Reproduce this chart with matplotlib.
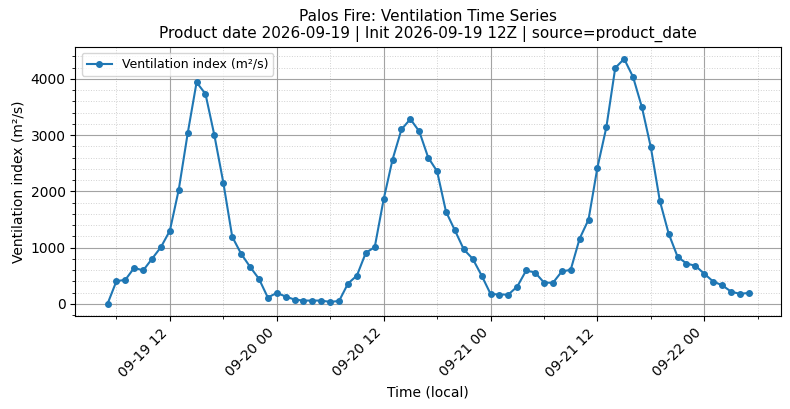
import matplotlib
matplotlib.use("Agg")
import matplotlib.pyplot as plt
import matplotlib.dates as mdates
from matplotlib.ticker import AutoMinorLocator
import pandas as pd

start_time = "2026-09-19 05:00"
vent_index = [
    0, 404, 428, 642, 594, 802, 1010, 1301, 2032, 3030, 3939, 3731, 2995,
    2157, 1194, 891, 660, 446, 113, 196, 131, 77, 59, 59, 59, 35, 53,
    362, 504, 909, 1009, 1859, 2566, 3101, 3285, 3066, 2602, 2358, 1640,
    1307, 968, 802, 504, 178, 166, 166, 308, 594, 558, 380, 374, 576,
    606, 1159, 1497, 2424, 3137, 4194, 4355, 4034, 3494, 2781, 1836,
    1248, 838, 718, 677, 535, 398, 332, 219, 178, 196,
]
times = pd.date_range(start=start_time, periods=len(vent_index), freq="h")

title = ("Palos Fire: Ventilation Time Series\n"
         "Product date 2026-09-19 | Init 2026-09-19 12Z | source=product_date")

fig = plt.figure(figsize=(7.9, 4.09), dpi=100)
ax = fig.add_axes([0.0955, 0.227, 0.893, 0.659])

ax.plot(times, vent_index, marker="o", markersize=4, color="#1f77b4",
        linewidth=1.5, label="Ventilation index (m²/s)")

ax.xaxis.set_major_locator(mdates.HourLocator(byhour=[0, 12]))
ax.xaxis.set_minor_locator(mdates.HourLocator(byhour=[6, 18]))
ax.xaxis.set_major_formatter(mdates.DateFormatter("%m-%d %H"))
ax.yaxis.set_minor_locator(AutoMinorLocator(5))

ax.grid(which="major", color="#999999", linewidth=0.8, alpha=0.9)
ax.grid(which="minor", color="#cccccc", linestyle=":", linewidth=0.7, alpha=0.9)

for lab in ax.get_xticklabels():
    lab.set_rotation(45)
    lab.set_ha("right")

ax.set_title(title, fontsize=11)
ax.set_xlabel("Time (local)")
ax.set_ylabel("Ventilation index (m²/s)")
ax.legend(loc="upper left", fontsize=9)

fig.savefig("out.png", dpi=100)
